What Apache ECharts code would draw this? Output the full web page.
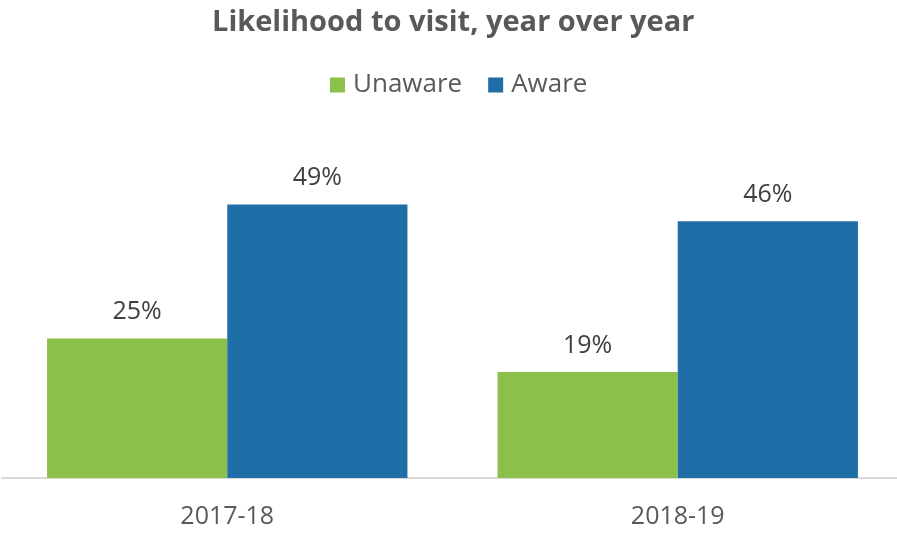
<!DOCTYPE html>
<html>
<head>
<meta charset="utf-8">
<script src="https://cdn.jsdelivr.net/npm/echarts@6/dist/echarts.min.js"></script>
<style>
  html, body { margin: 0; padding: 0; background: #ffffff; }
  #chart { width: 897px; height: 534px; }
</style>
</head>
<body>
<div id="chart"></div>
<script>
// Survey years on the category axis
const categories = ['2017-18', '2018-19'];
// Share of respondents likely to visit (%)
const unaware = [25, 19];
const aware = [49, 46];
const seriesNames = ['Unaware', 'Aware'];

const FONT = '"Open Sans", "Liberation Sans", sans-serif';

const chart = echarts.init(document.getElementById('chart'));

const labelStyle = {
  show: true,
  position: 'top',
  distance: 14,
  formatter: p => p.value + '%',
  color: '#404040',
  fontSize: 25,
  fontFamily: FONT
};

chart.setOption({
  animation: false,
  backgroundColor: '#ffffff',
  title: {
    text: 'Likelihood to visit, year over year',
    left: 207,
    top: 3,
    textStyle: { color: '#595959', fontSize: 29, fontWeight: 'bold', fontFamily: FONT }
  },
  legend: {
    data: seriesNames,
    top: 67,
    left: 325,
    itemWidth: 15,
    itemHeight: 15,
    itemGap: 26,
    icon: 'rect',
    textStyle: { color: '#595959', fontSize: 26, fontFamily: FONT, padding: [0, 0, 0, 3] }
  },
  grid: { left: 2, width: 901, top: 143, height: 335, outerBoundsMode: 'none', containLabel: false },
  xAxis: {
    type: 'category',
    data: categories,
    axisLine: { lineStyle: { color: '#D9D9D9', width: 2 } },
    axisTick: { show: false },
    axisLabel: { color: '#595959', fontSize: 25, fontFamily: FONT, margin: 26 }
  },
  yAxis: {
    type: 'value',
    min: 0,
    max: 60,
    show: false,
    splitLine: { show: false }
  },
  series: [
    {
      name: seriesNames[0],
      type: 'bar',
      data: unaware,
      barGap: '0%',
      barCategoryGap: '20%',
      itemStyle: { color: '#8BC04A' },
      label: labelStyle
    },
    {
      name: seriesNames[1],
      type: 'bar',
      data: aware,
      barGap: '0%',
      barCategoryGap: '20%',
      itemStyle: { color: '#1F6EA8' },
      label: labelStyle
    }
  ]
});
</script>
</body>
</html>
